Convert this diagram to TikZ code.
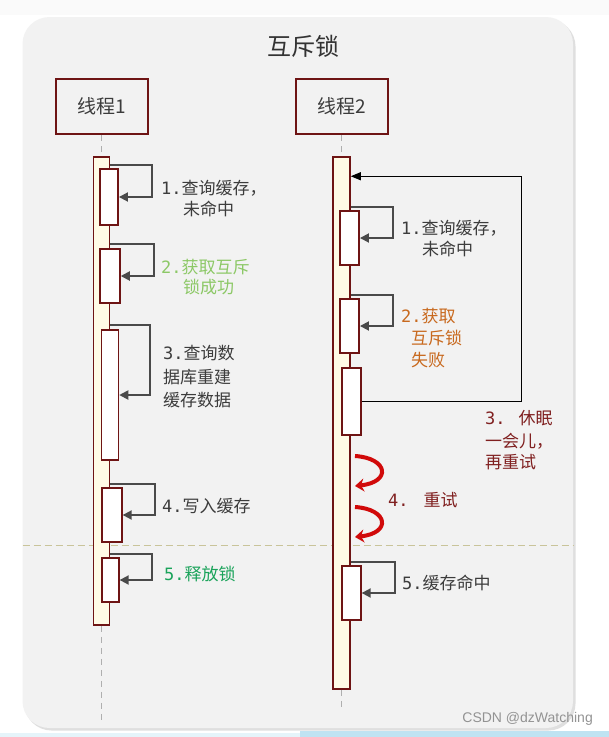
\documentclass[tikz,border=0pt]{standalone}
\usepackage{fontspec}
\setmainfont{Noto Sans CJK SC}
\newfontfamily\monodigits{DejaVu Sans Mono}
\newfontfamily\wmfont{Liberation Sans}
\usetikzlibrary{arrows.meta,calc}
\definecolor{panelbg}{HTML}{F2F2F2}
\definecolor{outbg}{HTML}{FAFAFA}
\definecolor{boxred}{HTML}{6E1414}
\definecolor{cream}{HTML}{FFFBE6}
\definecolor{txt}{HTML}{3C3C3C}
\definecolor{arrgray}{HTML}{4A4A4A}
\definecolor{lgreen}{HTML}{8CC866}
\definecolor{dgreen}{HTML}{1AA35A}
\definecolor{orangetxt}{HTML}{C8691E}
\definecolor{darkredtxt}{HTML}{802020}
\definecolor{arrred}{HTML}{D10A0A}
\definecolor{sepcol}{HTML}{C9C49A}
\definecolor{linegray}{HTML}{AFAFAF}
\definecolor{lightblue}{HTML}{BFE3F2}
\newcommand\stepnum[1]{{\monodigits #1}}
\begin{document}
\begin{tikzpicture}[x=1pt,y=-1pt,
  threadbox/.style={draw=boxred, line width=2pt, fill=panelbg, minimum width=92pt, minimum height=55pt, inner sep=0pt, font=\fontsize{19}{22}\selectfont, text=txt},
  lifebar/.style={draw=boxred, line width=1.5pt, fill=cream, inner sep=0pt},
  act/.style={draw=boxred, line width=1.5pt, fill=white, inner sep=0pt},
  selfarr/.style={draw=arrgray, line width=1.8pt, -{Triangle[length=9pt,width=9pt]}},
  looparr/.style={draw=black, line width=1pt, -{Triangle[length=10pt,width=8pt]}},
  redarr/.style={draw=arrred, line width=4pt, -{Stealth[length=9pt,width=13pt]}},
  lbl/.style={anchor=west, inner sep=0pt, font=\fontsize{17}{20}\selectfont, text=txt},
  lifeline/.style={draw=linegray, line width=1.5pt, dash pattern=on 6pt off 5pt},
  sepline/.style={draw=sepcol, line width=1pt, dash pattern=on 7pt off 4pt}
]
% background and panel
\fill[white] (0,0) rectangle (609,737);
\fill[outbg] (0,0) rectangle (609,15);
\fill[lightblue] (300,731) rectangle (609,737);
\fill[lightblue!40] (0,733) rectangle (300,737);
\fill[gray!25, rounded corners=27pt] (24.5,19.5) rectangle (575.5,730.5);
\fill[panelbg, rounded corners=27pt] (22.5,17) rectangle (573,728);
\useasboundingbox (0,0) rectangle (609,737);

% title
\node[font=\fontsize{24}{28}\selectfont, text=black!80] (title) at (303,46) {互斥锁};

% thread boxes
\node[threadbox] (box1) at (101.5,106.5) {线程1};
\node[threadbox] (box2) at (341.5,106.5) {线程2};

% separator
\coordinate (sepL) at (22.5,545.5);
\coordinate (sepR) at (573,545.5);
\draw[sepline] (sepL) -- (sepR);

% lifeline bars
\node[lifebar, minimum width=16pt, minimum height=468pt] (b1) at (101.5,391) {};
\node[lifebar, minimum width=17pt, minimum height=532pt] (b2) at (341.5,423) {};

% lifelines
\coordinate (end1) at (101.5,722);
\coordinate (end2) at (341.5,710);
\draw[lifeline] (box1.south) -- (b1.north);
\draw[lifeline] (b1.south) -- (end1);
\draw[lifeline] (box2.south) -- (b2.north);
\draw[lifeline] (b2.south) -- (end2);

% activations thread 1
\node[act, minimum width=18pt, minimum height=56pt] (a11) at (109.2,197) {};
\node[act, minimum width=20pt, minimum height=54pt] (a12) at (110,276) {};
\node[act, minimum width=17pt, minimum height=130pt] (a13) at (110,395) {};
\node[act, minimum width=20pt, minimum height=54pt] (a14) at (111.9,515) {};
\node[act, minimum width=17pt, minimum height=44pt] (a15) at (110.4,580) {};

% activations thread 2
\node[act, minimum width=19pt, minimum height=54pt] (a21) at (349.7,238) {};
\node[act, minimum width=19pt, minimum height=54pt] (a22) at (349.7,326) {};
\node[act, minimum width=19pt, minimum height=67pt] (a23) at (351.4,401.5) {};
\node[act, minimum width=19pt, minimum height=54pt] (a25) at (351.4,593) {};

% self arrows thread 1
\draw[selfarr] ($(b1.east |- a11.north)+(0,-3)$) -- ++(42,0) |- (a11.east);
\draw[selfarr] ($(b1.east |- a12.north)+(0,-4)$) -- ++(44,0) |- (a12.east);
\draw[selfarr] ($(b1.east |- a13.north)+(0,-4)$) -- ++(40,0) |- (a13.east);
\draw[selfarr] ($(b1.east |- a14.north)+(0,-3)$) -- ++(45,0) |- (a14.east);
\draw[selfarr] ($(b1.east |- a15.north)+(0,-3)$) -- ++(42,0) |- (a15.east);

% self arrows thread 2
\draw[selfarr] ($(b2.east |- a21.north)+(0,-3)$) -- ++(42,0) |- (a21.east);
\draw[selfarr] ($(b2.east |- a22.north)+(0,-3)$) -- ++(42,0) |- (a22.east);
\draw[selfarr] ($(b2.east |- a25.north)+(0,-3)$) -- ++(44,0) |- (a25.east);

% loop back arrow
\draw[looparr] (a23.east) -- ++(160,0) |- ($(b2.north east)+(0,20)$);

% red retry arrows
\coordinate (r1s) at (355,456);
\coordinate (r1e) at (355,486);
\coordinate (r2s) at (355,507);
\coordinate (r2e) at (355,537);
\draw[redarr] (r1s) .. controls (388,458) and (392,482) .. (r1e);
\draw[redarr] (r2s) .. controls (388,509) and (392,533) .. (r2e);

% labels thread 1
\node[lbl] (l11) at (161,188) {\stepnum{1.}查询缓存，};
\node[lbl] (l11b) at (183,209) {未命中};
\node[lbl, text=lgreen] (l12) at (161,267) {\stepnum{2.}获取互斥};
\node[lbl, text=lgreen] (l12b) at (183,287) {锁成功};
\node[lbl] (l13) at (163,353) {\stepnum{3.}查询数};
\node[lbl] (l13b) at (163,377) {据库重建};
\node[lbl] (l13c) at (163,400) {缓存数据};
\node[lbl] (l14) at (162,506) {\stepnum{4.}写入缓存};
\node[lbl, text=dgreen] (l15) at (164,574) {\stepnum{5.}释放锁};

% labels thread 2
\node[lbl] (l21) at (401,228) {\stepnum{1.}查询缓存，};
\node[lbl] (l21b) at (422,249) {未命中};
\node[lbl, text=orangetxt] (l22) at (401,316) {\stepnum{2.}获取};
\node[lbl, text=orangetxt] (l22b) at (411,338) {互斥锁};
\node[lbl, text=orangetxt] (l22c) at (411,360) {失败};
\node[lbl, text=darkredtxt] (l23) at (485,418) {\stepnum{3.}\hspace{13pt}休眠};
\node[lbl, text=darkredtxt] (l23b) at (485,441) {一会儿，};
\node[lbl, text=darkredtxt] (l23c) at (485,462) {再重试};
\node[lbl, text=darkredtxt] (l24) at (388,500) {\stepnum{4.}\hspace{15pt}重试};
\node[lbl] (l25) at (402,583) {\stepnum{5.}缓存命中};

% watermark
\node[anchor=east, inner sep=0pt, font=\wmfont\fontsize{14}{16}\selectfont, text=gray!85] (wm) at (593,719) {CSDN @dzWatching};
\end{tikzpicture}
\end{document}
